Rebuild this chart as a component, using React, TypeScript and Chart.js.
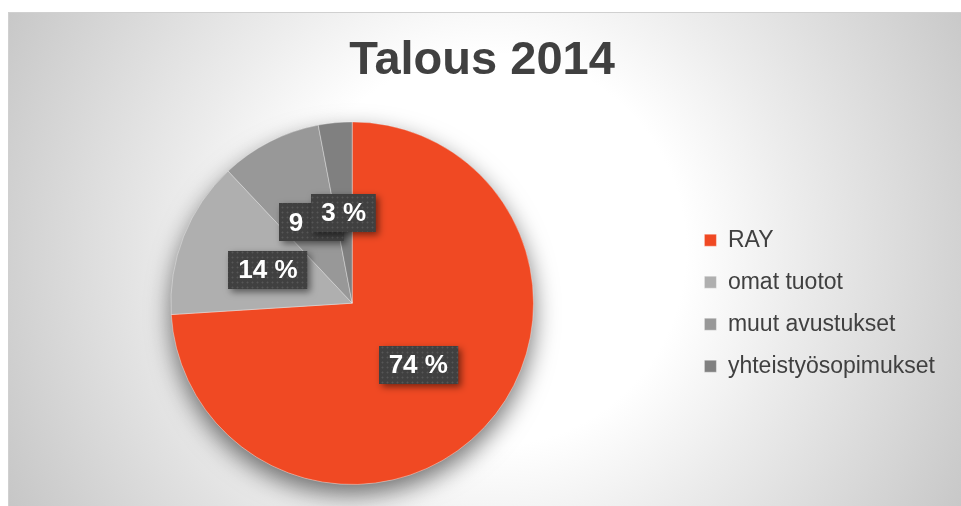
import { useEffect, useRef } from 'react';
import { Chart, registerables } from 'chart.js';

Chart.register(...registerables);

const categories = ['RAY', 'omat tuotot', 'muut avustukset', 'yhteistyösopimukset'];
const shares = [74, 14, 9, 3];
const sliceColors = ['#F04923', '#AFAFAF', '#989898', '#808080'];
const titleText = 'Talous 2014';
const FONT = '"Liberation Sans", Arial, sans-serif';

const backgroundPlugin = {
  id: 'bgPanel',
  beforeDraw(chart: any) {
    const ctx = chart.ctx as CanvasRenderingContext2D;
    const w = chart.width;
    const h = chart.height;
    ctx.save();
    ctx.fillStyle = '#ffffff';
    ctx.fillRect(0, 0, w, h);
    const g = ctx.createRadialGradient(490, 250, 0, 490, 250, 560);
    g.addColorStop(0, '#ffffff');
    g.addColorStop(0.35, '#ffffff');
    g.addColorStop(0.55, '#ececec');
    g.addColorStop(1, '#c4c4c4');
    ctx.fillStyle = g;
    ctx.fillRect(8, 12, w - 8, h - 12);
    ctx.strokeStyle = '#d0d0d0';
    ctx.lineWidth = 1;
    ctx.strokeRect(8.5, 12.5, w - 8, h - 12);
    ctx.restore();
  },
};

const pieShadowPlugin = {
  id: 'pieShadow',
  beforeDatasetsDraw(chart: any) {
    const meta = chart.getDatasetMeta(0);
    const arc = meta.data[0];
    if (!arc) return;
    const { x, y, outerRadius } = arc.getProps(['x', 'y', 'outerRadius'], true);
    const ctx = chart.ctx as CanvasRenderingContext2D;
    ctx.save();
    ctx.shadowColor = 'rgba(0,0,0,0.55)';
    ctx.shadowBlur = 24;
    ctx.shadowOffsetX = 0;
    ctx.shadowOffsetY = 10;
    ctx.fillStyle = '#b0b0b0';
    ctx.beginPath();
    ctx.arc(x, y, outerRadius, 0, Math.PI * 2);
    ctx.fill();
    ctx.restore();
  },
};

let dotPattern: CanvasPattern | null = null;
function getPattern(ctx: CanvasRenderingContext2D) {
  if (dotPattern) return dotPattern;
  const c = document.createElement('canvas');
  c.width = 5;
  c.height = 5;
  const p = c.getContext('2d')!;
  p.fillStyle = '#404040';
  p.fillRect(0, 0, 5, 5);
  p.fillStyle = '#565656';
  p.fillRect(2, 2, 1, 1);
  p.fillStyle = '#4a4a4a';
  p.fillRect(1, 2, 1, 1);
  p.fillRect(3, 2, 1, 1);
  p.fillRect(2, 1, 1, 1);
  p.fillRect(2, 3, 1, 1);
  dotPattern = ctx.createPattern(c, 'repeat');
  return dotPattern;
}

const labelPlugin = {
  id: 'boxLabels',
  afterDatasetsDraw(chart: any) {
    const ctx = chart.ctx as CanvasRenderingContext2D;
    const meta = chart.getDatasetMeta(0);
    const values = chart.data.datasets[0].data as number[];
    ctx.save();
    ctx.font = `bold 26px ${FONT}`;
    ctx.textAlign = 'center';
    ctx.textBaseline = 'middle';
    meta.data.forEach((arc: any, i: number) => {
      const { x, y } = arc.getCenterPoint(true);
      const text = `${values[i]} %`;
      const tw = ctx.measureText(text).width;
      const bw = tw + 20;
      const bh = 38;
      const bx = Math.round(x - bw / 2);
      const by = Math.round(y - bh / 2);
      ctx.save();
      ctx.shadowColor = 'rgba(0,0,0,0.5)';
      ctx.shadowBlur = 7;
      ctx.shadowOffsetX = 3;
      ctx.shadowOffsetY = 3;
      ctx.fillStyle = getPattern(ctx) || '#404040';
      ctx.fillRect(bx, by, bw, bh);
      ctx.restore();
      ctx.fillStyle = '#ffffff';
      ctx.fillText(text, x, y + 1);
    });
    ctx.restore();
  },
};

export default function App() {
  const ref = useRef<HTMLCanvasElement | null>(null);

  useEffect(() => {
    if (!ref.current) return;
    const chart = new Chart(ref.current, {
      type: 'pie',
      data: {
        labels: categories,
        datasets: [
          {
            data: shares,
            backgroundColor: sliceColors,
            borderColor: 'rgba(255,255,255,0.35)',
            borderWidth: 1,
          },
        ],
      },
      options: {
        responsive: false,
        devicePixelRatio: 1,
        animation: false,
        layout: { padding: { left: 19, right: 16, top: 0, bottom: 21 } },
        plugins: {
          title: {
            display: true,
            text: titleText,
            color: '#404040',
            font: { family: FONT, size: 47, weight: 'bold' },
            padding: { top: 33, bottom: 32 },
          },
          legend: {
            position: 'right',
            align: 'center',
            fullSize: false,
            labels: {
              boxWidth: 12,
              boxHeight: 12,
              padding: 19,
              color: '#404040',
              font: { family: FONT, size: 23 },
            },
          },
          tooltip: { enabled: false },
        },
      },
      plugins: [backgroundPlugin, pieShadowPlugin, labelPlugin],
    });
    return () => chart.destroy();
  }, []);

  return (
    <div style={{ position: 'fixed', left: 0, top: 0, width: 961, height: 506 }}>
      <canvas ref={ref} width={961} height={506} style={{ display: 'block' }} />
    </div>
  );
}
